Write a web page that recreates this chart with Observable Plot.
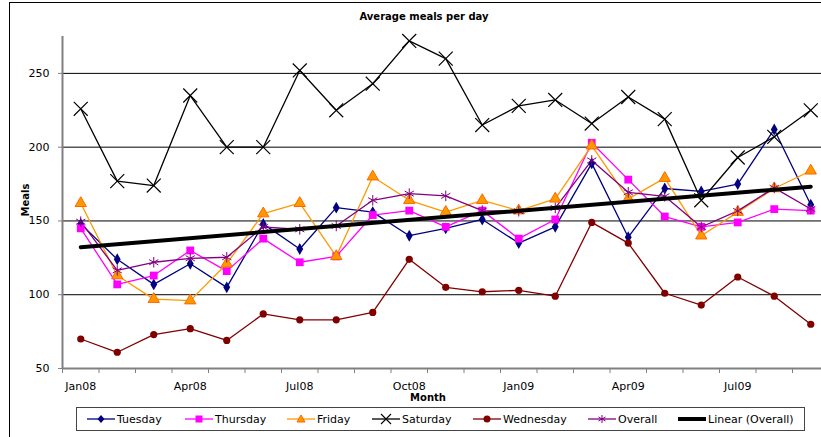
<!DOCTYPE html>
<html>
<head>
<meta charset="utf-8">
<script src="https://cdn.jsdelivr.net/npm/d3@7"></script>
<script src="https://cdn.jsdelivr.net/npm/@observablehq/plot@0.6"></script>
<style>
  html, body { margin: 0; padding: 0; background: #fff; }
  body { width: 821px; height: 437px; overflow: hidden; font-family: "DejaVu Sans", sans-serif; }
  #wrap { position: relative; width: 821px; height: 437px; overflow: hidden; }
  #frame { position: absolute; left: 9px; top: 2px; width: 1000px; height: 1000px; border: 1px solid #000; box-sizing: border-box; }
  #chart { position: absolute; left: 0; top: 0; }
  .lbl { position: absolute; font-weight: bold; font-size: 10px; color: #000; white-space: nowrap; }
  #title { left: 424px; top: 11px; transform: translateX(-50%); }
  #xlab { left: 428px; top: 392px; transform: translateX(-50%); }
  #ylab { left: 25px; top: 200px; transform: translate(-50%, -50%) rotate(-90deg); }
  #legend { position: absolute; left: 76px; top: 407px; width: 729px; height: 24px; border: 1px solid #444; box-sizing: border-box; background: #fff; }
  .item { position: absolute; top: 0; height: 22px; display: flex; align-items: center; font-size: 11px; white-space: nowrap; }
  .item svg { margin-right: 2px; }
</style>
</head>
<body>
<div id="wrap">
  <div id="frame"></div>
  <div id="chart"></div>
  <div id="title" class="lbl">Average meals per day</div>
  <div id="xlab" class="lbl">Month</div>
  <div id="ylab" class="lbl">Meals</div>
  <div id="legend"></div>
</div>
<script>
const months = ["Jan08","Feb08","Mar08","Apr08","May08","Jun08","Jul08","Aug08","Sep08","Oct08","Nov08","Dec08",
                "Jan09","Feb09","Mar09","Apr09","May09","Jun09","Jul09","Aug09","Sep09"];
const tickLabelIdx = [0, 3, 6, 9, 12, 15, 18];
const yTicks = [50, 100, 150, 200, 250];
const gridValues = [100, 150, 200, 250];

const tuesday   = [148, 124, 107, 121, 105, 148, 131, 159, 156, 140, 145, 151, 135, 146, 189, 139, 172, 170, 175, 212, 161];
const thursday  = [145, 107, 113, 130, 116, 138, 122, 126, 154, 157, 146, 157, 138, 151, 203, 178, 153, 146, 149, 158, 157];
const friday    = [162, 113, 97, 96, 121, 155, 162, 126, 180, 164, 156, 164, 157, 165, 201, 165, 179, 140, 156, 172, 184];
const saturday  = [226, 177, 174, 235, 200, 200, 252, 225, 243, 272, 260, 215, 228, 232, 216, 234, 219, 164, 193, 207, 225];
const wednesday = [70, 61, 73, 77, 69, 87, 83, 83, 88, 124, 105, 102, 103, 99, 149, 135, 101, 93, 112, 99, 80];
const overall   = [149.5, 116.5, 122, 124.7, 125.4, 145.9, 144.3, 146.6, 164, 168.5, 167, 157, 156.6, 158.8, 191, 169.4, 166.7, 145.9, 156.8, 172.4, 158.1];

const series = [
  {name: "Tuesday",   values: tuesday,   line: "#000080", symbol: "diamond",  fill: "#000080", stroke: "none",    r: 3.6},
  {name: "Thursday",  values: thursday,  line: "#ff00ff", symbol: "square",   fill: "#ff00ff", stroke: "none",    r: 4.4},
  {name: "Friday",    values: friday,    line: "#ff9900", symbol: "triangle", fill: "#ff9900", stroke: "#ff6600", r: 4.2},
  {name: "Saturday",  values: saturday,  line: "#000000", symbol: "times",    fill: "none",    stroke: "#000000", r: 6.4},
  {name: "Wednesday", values: wednesday, line: "#800000", symbol: "circle",   fill: "#800000", stroke: "none",    r: 3.6},
  {name: "Overall",   values: overall,   line: "#800080", symbol: "asterisk", fill: "none",    stroke: "#800080", r: 5}
];

const idx = months.map((_, i) => i);
const bounds = d3.range(months.length + 1).map(i => i - 0.5);

const marks = [
  Plot.ruleY(gridValues, {stroke: "#000", strokeWidth: 1}),
  Plot.ruleY([50], {stroke: "#808080", strokeWidth: 2}),
  Plot.ruleX([-0.5], {y1: 50, y2: 275, stroke: "#808080", strokeWidth: 2}),
  Plot.axisY({ticks: yTicks, tickSize: 4, tickPadding: 9, label: null, stroke: "#808080", fill: "#000", fontSize: 11}),
  Plot.axisX({ticks: bounds, tickSize: 5, tickFormat: () => "", label: null, stroke: "#808080"}),
  Plot.axisX({ticks: tickLabelIdx, tickSize: 0, tickPadding: 14, tickFormat: i => months[i], label: null, fill: "#000", fontSize: 11})
];

for (const s of series) {
  marks.push(Plot.line(idx, {x: i => i, y: i => s.values[i], stroke: s.line, strokeWidth: 1.3}));
}
for (const s of series) {
  marks.push(Plot.dot(idx, {x: i => i, y: i => s.values[i], symbol: s.symbol, fill: s.fill, stroke: s.stroke, r: s.r, strokeWidth: s.symbol === "times" ? 1.2 : 1}));
}
marks.push(Plot.linearRegressionY(idx, {x: i => i, y: i => overall[i], stroke: "#000", strokeWidth: 4, ci: 0}));

const chart = Plot.plot({
  width: 821,
  height: 400,
  marginLeft: 62,
  marginRight: 0,
  marginTop: 36,
  marginBottom: 32,
  style: {fontFamily: "DejaVu Sans, sans-serif", fontSize: "11px", background: "transparent", overflow: "visible"},
  x: {type: "linear", domain: [-0.5, months.length - 0.5], range: [62, 828.5], axis: null},
  y: {domain: [50, 275], axis: null},
  marks
});
document.getElementById("chart").appendChild(chart);

// Legend
const legendItems = [
  ...series.map(s => ({name: s.name, s})),
  {name: "Linear (Overall)", s: null}
];
const legendLeft = [10, 108, 210, 295, 396, 511, 601];
const legend = document.getElementById("legend");
legendItems.forEach((it, k) => {
  const div = document.createElement("div");
  div.className = "item";
  div.style.left = legendLeft[k] + "px";
  const w = 28, h = 14, cy = 7, cx = 14;
  let svg = `<svg width="${w}" height="${h}" viewBox="0 0 ${w} ${h}">`;
  if (!it.s) {
    svg += `<line x1="0" x2="${w}" y1="${cy}" y2="${cy}" stroke="#000" stroke-width="4"/>`;
  } else {
    const s = it.s;
    svg += `<line x1="0" x2="${w}" y1="${cy}" y2="${cy}" stroke="${s.line}" stroke-width="1.3"/>`;
    if (s.symbol === "diamond") svg += `<path d="M${cx},${cy-4}L${cx+3.5},${cy}L${cx},${cy+4}L${cx-3.5},${cy}Z" fill="${s.fill}"/>`;
    if (s.symbol === "square") svg += `<rect x="${cx-3.5}" y="${cy-3.5}" width="7" height="7" fill="${s.fill}"/>`;
    if (s.symbol === "triangle") svg += `<path d="M${cx},${cy-4}L${cx+4},${cy+3}L${cx-4},${cy+3}Z" fill="${s.fill}" stroke="${s.stroke}"/>`;
    if (s.symbol === "times") svg += `<path d="M${cx-5},${cy-5}L${cx+5},${cy+5}M${cx+5},${cy-5}L${cx-5},${cy+5}" stroke="#000" stroke-width="1.1"/>`;
    if (s.symbol === "circle") svg += `<circle cx="${cx}" cy="${cy}" r="3.5" fill="${s.fill}"/>`;
    if (s.symbol === "asterisk") svg += `<path d="M${cx},${cy-4}V${cy+4}M${cx-3.5},${cy-2}L${cx+3.5},${cy+2}M${cx+3.5},${cy-2}L${cx-3.5},${cy+2}" stroke="${s.stroke}" stroke-width="1"/>`;
  }
  svg += `</svg>`;
  div.innerHTML = svg + `<span>${it.name}</span>`;
  legend.appendChild(div);
});
</script>
</body>
</html>
